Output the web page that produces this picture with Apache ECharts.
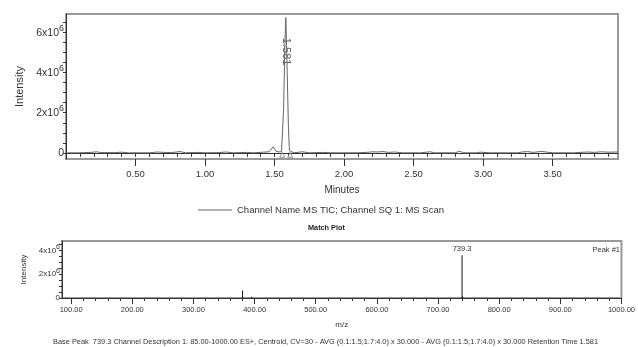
<!DOCTYPE html>
<html><head><meta charset="utf-8">
<script src="https://cdn.jsdelivr.net/npm/echarts@6/dist/echarts.min.js"></script>
<style>html,body{margin:0;padding:0;background:#fff}#c{width:638px;height:347px}</style>
</head><body><div id="c"></div>
<script>
const FONT = "'Liberation Sans',Arial,sans-serif";

// TIC chromatogram: [minutes, intensity in units of 10^6]
const ticData = [
  [0.01,0.00],[0.10,0.00],[0.18,0.02],[0.22,0.05],[0.25,0.01],[0.35,0.01],[0.40,0.03],[0.45,0.00],
  [0.60,0.00],[0.66,0.04],[0.70,0.02],[0.76,0.01],[0.82,0.06],[0.86,0.00],[0.95,0.02],[1.00,0.00],
  [1.10,0.01],[1.15,0.04],[1.20,0.00],[1.30,0.02],[1.35,0.00],[1.42,0.03],[1.46,0.05],[1.49,0.30],
  [1.51,0.08],[1.53,0.04],[1.55,0.06],[1.565,2.2],[1.575,5.6],[1.581,6.75],[1.59,4.3],[1.60,1.2],
  [1.607,0.10],[1.62,0.12],[1.64,0.00],[1.70,0.05],[1.75,0.00],[1.85,0.02],[1.90,0.00],[2.00,0.00],
  [2.10,0.00],[2.18,0.03],[2.20,0.05],[2.24,0.04],[2.28,0.06],[2.32,0.02],[2.36,0.04],[2.42,0.00],
  [2.55,0.00],[2.62,0.05],[2.65,0.00],[2.80,0.00],[2.83,0.08],[2.86,0.00],[2.95,0.00],[2.98,0.03],
  [3.05,0.00],[3.25,0.00],[3.28,0.04],[3.32,0.06],[3.36,0.02],[3.42,0.07],[3.46,0.03],[3.50,0.00],
  [3.65,0.00],[3.75,0.04],[3.80,0.02],[3.85,0.05],[3.90,0.03],[3.97,0.04]
];
const peakTime = 1.581;
const peakHeight = 6.75;
const peakLabel = '1.581';
const peakBounds = [[1.555,0],[1.612,0]];

// Mass spectrum: [m/z, intensity in units of 10^6]
const spectrum = [[380.3,0.63],[395.2,0.10],[739.3,3.60],[740.3,0.12]];
const basePeak = 739.3;

const topXLabels = [0.5,1.0,1.5,2.0,2.5,3.0,3.5];
const topYLabels = [0,2,4,6];
const botXLabels = [100,200,300,400,500,600,700,800,900,1000];
const botYLabels = [0,2,4];

const legendText = 'Channel Name MS TIC; Channel SQ 1: MS Scan';
const matchTitle = 'Match Plot';
const peakTag = 'Peak #1';
const caption = 'Base Peak  739.3 Channel Description 1: 85.00-1000.00 ES+, Centroid, CV=30 - AVG (0.1:1.5;1.7:4.0) x 30.000 - AVG (0.1:1.5;1.7:4.0) x 30.000 Retention Time 1.581';

function steps(a, b, s) { const r = []; for (let k = 0; a + k * s <= b + 1e-9; k++) r.push(+(a + k * s).toFixed(4)); return r; }

const TXT = '#333';
const supFmt = v => v === 0 ? '{m|0}' : '{m|' + v + 'x10}{s|6}';

const chart = echarts.init(document.getElementById('c'));
chart.setOption({
  animation: false,
  backgroundColor: '#fff',
  textStyle: { fontFamily: FONT },
  title: [
    { text: matchTitle, left: 308, top: 224, padding: 0, textStyle: { fontFamily: FONT, fontSize: 7.3, fontWeight: 'bold', color: '#222' } },
    { text: peakTag, right: 18, top: 246, padding: 0, textStyle: { fontFamily: FONT, fontSize: 7.5, fontWeight: 'normal', color: TXT } },
    { text: caption, left: 53, top: 338, padding: 0, textStyle: { fontFamily: FONT, fontSize: 7.4, fontWeight: 'normal', color: TXT } }
  ],
  legend: {
    left: 198, top: 205, padding: 0, itemWidth: 34, itemHeight: 1.2, itemGap: 6,
    data: [{ name: legendText, icon: 'rect' }],
    textStyle: { fontFamily: FONT, fontSize: 9.5, color: TXT }
  },
  grid: [
    { left: 66, top: 14, width: 552, height: 145, show: true, borderColor: '#999', borderWidth: 2 },
    { left: 62, top: 241, width: 562, height: 57, show: true, borderColor: '#999', borderWidth: 2 }
  ],
  xAxis: [
    { gridIndex: 0, type: 'value', position: 'bottom', min: 0, max: 3.97, splitLine: { show: false },
      axisLine: { lineStyle: { color: TXT, width: 1 } },
      axisTick: { customValues: steps(0.1, 3.9, 0.1), length: 4, lineStyle: { color: TXT } },
      axisLabel: { customValues: topXLabels, formatter: v => v.toFixed(2), fontSize: 9.5, color: TXT, margin: 10, fontFamily: FONT },
      name: 'Minutes', nameLocation: 'middle', nameGap: 26, nameTextStyle: { fontSize: 10, color: TXT, fontFamily: FONT } },
    { gridIndex: 0, type: 'value', position: 'bottom', offset: 0, min: 0, max: 3.97, splitLine: { show: false },
      axisLine: { show: false },
      axisTick: { customValues: topXLabels, length: 7, lineStyle: { color: TXT } },
      axisLabel: { show: false } },
    { gridIndex: 1, type: 'value', position: 'bottom', min: 85, max: 1000, splitLine: { show: false },
      axisLine: { lineStyle: { color: TXT, width: 1 } },
      axisTick: { customValues: steps(100, 1000, 20), length: 3, lineStyle: { color: TXT } },
      axisLabel: { customValues: botXLabels, formatter: v => v.toFixed(2), fontSize: 7.5, color: TXT, margin: 8, fontFamily: FONT },
      name: 'm/z', nameLocation: 'middle', nameGap: 23, nameTextStyle: { fontSize: 8, color: TXT, fontFamily: FONT } },
    { gridIndex: 1, type: 'value', position: 'bottom', offset: 0, min: 85, max: 1000, splitLine: { show: false },
      axisLine: { show: false },
      axisTick: { customValues: botXLabels, length: 6, lineStyle: { color: TXT } },
      axisLabel: { show: false } }
  ],
  yAxis: [
    { gridIndex: 0, type: 'value', position: 'left', min: -0.31, max: 6.93, splitLine: { show: false },
      axisLine: { show: true, lineStyle: { color: TXT, width: 1 } },
      axisTick: { show: true, customValues: steps(0, 6.5, 0.5), length: 3, lineStyle: { color: TXT } },
      axisLabel: { customValues: topYLabels, formatter: supFmt, margin: 2, color: TXT,
        rich: { m: { fontSize: 10.5, fontFamily: FONT, color: TXT }, s: { fontSize: 9, fontFamily: FONT, color: TXT, padding: [0, 0, 9, 0] } } },
      name: 'Intensity', nameLocation: 'middle', nameGap: 33, nameRotate: 90, nameTextStyle: { fontSize: 11, color: TXT, fontFamily: FONT } },
    { gridIndex: 1, type: 'value', position: 'left', min: 0, max: 4.8, splitLine: { show: false },
      axisLine: { show: true, lineStyle: { color: TXT, width: 1 } },
      axisTick: { show: true, customValues: steps(0, 4.5, 0.5), length: 3, lineStyle: { color: TXT } },
      axisLabel: { customValues: botYLabels, formatter: supFmt, margin: 2, color: TXT,
        rich: { m: { fontSize: 8, fontFamily: FONT, color: TXT }, s: { fontSize: 7, fontFamily: FONT, color: TXT, padding: [0, 0, 7, 0] } } },
      name: 'Intensity', nameLocation: 'middle', nameGap: 34, nameRotate: 90, nameTextStyle: { fontSize: 8, color: TXT, fontFamily: FONT } }
  ],
  series: [
    { name: legendText, type: 'line', xAxisIndex: 0, yAxisIndex: 0, showSymbol: false, symbol: 'none',
      lineStyle: { color: '#666', width: 1 }, itemStyle: { color: '#666' }, data: ticData },
    { name: 'apex', type: 'scatter', xAxisIndex: 0, yAxisIndex: 0, symbolSize: 0, silent: true,
      itemStyle: { color: '#333' },
      label: { show: true, formatter: peakLabel, position: 'inside', rotate: -90, offset: [34, 0], fontSize: 11, color: '#333', fontFamily: FONT },
      data: [[peakTime, peakHeight]] },
    { name: 'bounds', type: 'scatter', xAxisIndex: 0, yAxisIndex: 0, symbol: 'triangle', symbolSize: 5, symbolOffset: [0, 2],
      itemStyle: { color: '#fff', borderColor: '#555', borderWidth: 0.8 }, data: peakBounds },
    { name: 'spectrum', type: 'bar', xAxisIndex: 2, yAxisIndex: 1, barWidth: 1, itemStyle: { color: '#111' },
      data: spectrum.map(d => d[0] === basePeak ? {
        value: d, label: { show: true, position: 'top', distance: 2, formatter: String(basePeak), fontSize: 7.5, color: TXT, fontFamily: FONT }
      } : d) }
  ]
});
</script></body></html>
